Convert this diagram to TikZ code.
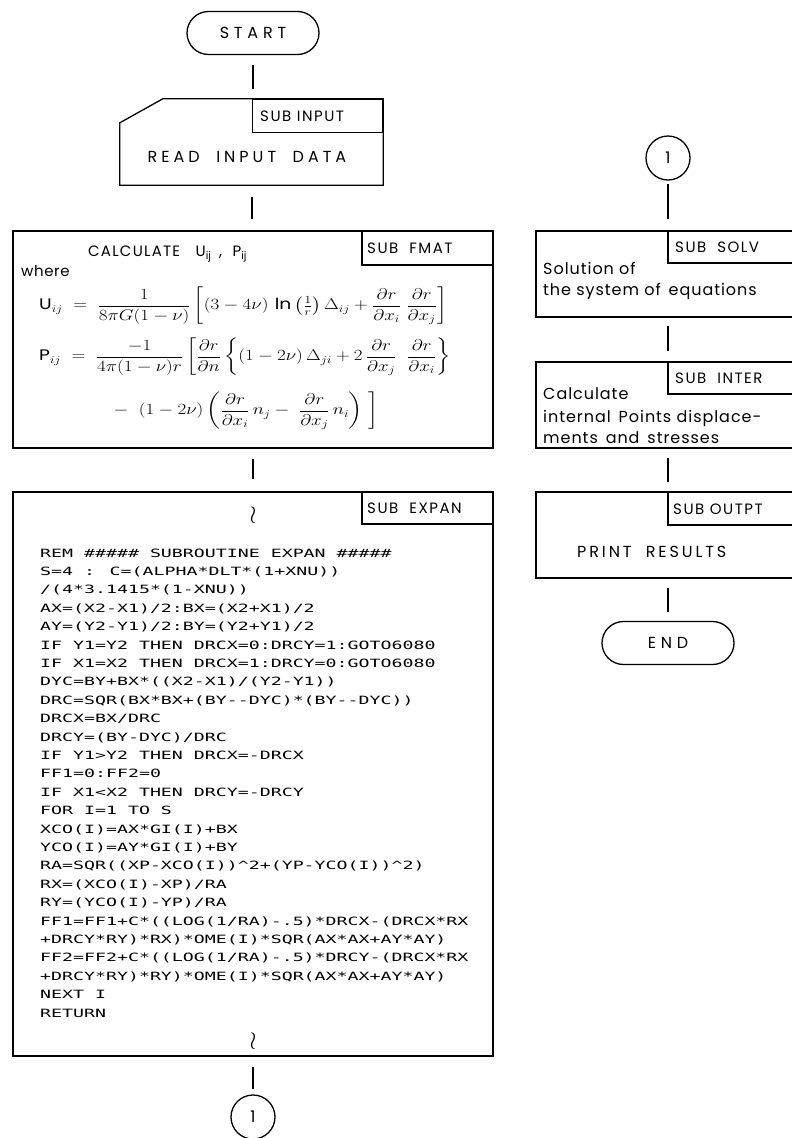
\documentclass[tikz,border=0pt]{standalone}
\usepackage{amsmath}
\usepackage{fontspec}
\usetikzlibrary{shapes.misc,calc}
\setmainfont{Poppins}
\newfontfamily\codefont{DejaVu Sans Mono}[FakeStretch=1.6]
\begin{document}
\begin{tikzpicture}[x=1pt,y=-1pt,
  ln/.style={line width=1.3pt},
  term/.style={rounded rectangle, draw, line width=1.3pt, minimum width=132pt, minimum height=43pt, inner sep=0pt,
    font=\fontsize{16}{19}\selectfont\addfontfeatures{LetterSpace=30}},
  conn/.style={circle, draw, line width=1.3pt, minimum size=44pt, inner sep=0pt, font=\fontsize{16}{19}\selectfont},
  box/.style={draw, line width=1.3pt, inner sep=0pt},
  lbl/.style={draw, line width=1.3pt, inner sep=0pt, anchor=north east},
  lt/.style={anchor=west, inner sep=0pt, font=\fontsize{15}{18}\selectfont\addfontfeatures{LetterSpace=10}},
  bt/.style={anchor=west, inner sep=0pt, font=\fontsize{16}{19}\selectfont\addfontfeatures{LetterSpace=6}},
  eq/.style={anchor=west, inner sep=0pt, font=\fontsize{17}{20}\selectfont},
  code/.style={anchor=base west, inner sep=0pt, font=\fontsize{11.4}{14}\codefont},
  sq/.style={inner sep=0pt, font=\fontsize{24}{28}\selectfont}
]
\fill[white] (0,0) rectangle (792,1138);
\useasboundingbox (0,0) rectangle (792,1138);
\clip (0,0) rectangle (792,1138);

% ---------- left column ----------
\node[term] (start) at (253,33) {START};

\node[inner sep=0pt, minimum width=263pt, minimum height=86pt] (input) at (251.5,142) {};
\draw[ln] (input.south west) -- ($(input.north west)+(0,24)$) -- ($(input.north west)+(43,0)$)
  -- (input.north east) -- (input.south east) -- cycle;
\node[lbl, minimum width=130pt, minimum height=33pt] (inputl) at (input.north east) {};
\node[lt] (inputt) at (260,116) {SUB INPUT};
\node[inner sep=0pt, font=\fontsize{16}{19}\selectfont\addfontfeatures{LetterSpace=25}] (readt) at (247,157) {READ\ \ INPUT\ \ DATA};

\node[box, minimum width=480pt, minimum height=217pt] (fmat) at (253,339.5) {};
\node[lbl, minimum width=131pt, minimum height=34pt] (fmatl) at (fmat.north east) {};
\node[lt] (fmatt) at (367,248) {SUB\ \ FMAT};
\node[anchor=base west, inner sep=0pt, font=\fontsize{15}{18}\selectfont\addfontfeatures{LetterSpace=8}] (calc) at (88,256)
  {CALCULATE\ \ \ U\textsubscript{\addfontfeatures{LetterSpace=0}ij}\,\ ,\ \ P\textsubscript{\addfontfeatures{LetterSpace=0}ij}};
\node[anchor=base west, inner sep=0pt, font=\fontsize{15}{18}\selectfont\addfontfeatures{LetterSpace=4}] (where) at (21,276) {where};
\node[eq] (equ) at (39,306)
  {\scalebox{1.1}[0.9]{$\text{U}_{ij}\;=\;\dfrac{1}{8\pi G(1-\nu)}\left[(3-4\nu)\,\ln\left(\tfrac{1}{r}\right)\Delta_{ij}+\dfrac{\partial r}{\partial x_i}\;\dfrac{\partial r}{\partial x_j}\right]$}};
\node[eq] (eqp) at (39,357)
  {\scalebox{1.1}[0.9]{$\text{P}_{ij}\;=\;\dfrac{-1}{4\pi(1-\nu)r}\left[\dfrac{\partial r}{\partial n}\left\{(1-2\nu)\,\Delta_{ji}+2\,\dfrac{\partial r}{\partial x_j}\;\;\dfrac{\partial r}{\partial x_i}\right\}\right.$}};
\node[eq] (eqr) at (112,411)
  {\scalebox{1.1}[0.9]{$\left.-\;\;(1-2\nu)\left(\dfrac{\partial r}{\partial x_i}\,n_j-\;\dfrac{\partial r}{\partial x_j}\,n_i\right)\;\right]$}};

\node[box, minimum width=480pt, minimum height=564pt] (expan) at (253,774) {};
\node[lbl, minimum width=131pt, minimum height=32pt] (expanl) at (expan.north east) {};
\node[lt] (expant) at (367,508) {SUB\ \ EXPAN};
\node[sq] (sqa) at (253,515) {$\wr$};
\node[sq] (sqb) at (253,1041) {$\wr$};

\foreach \t [count=\i] in {
  {REM \#\#\#\#\# SUBROUTINE EXPAN \#\#\#\#\#},
  {S=4 : C=(ALPHA*DLT*(1+XNU))},
  {/(4*3.1415*(1-XNU))},
  {AX=(X2-X1)/2:BX=(X2+X1)/2},
  {AY=(Y2-Y1)/2:BY=(Y2+Y1)/2},
  {IF Y1=Y2 THEN DRCX=0:DRCY=1:GOTO6080},
  {IF X1=X2 THEN DRCX=1:DRCY=0:GOTO6080},
  {DYC=BY+BX*((X2-X1)/(Y2-Y1))},
  {DRC=SQR(BX*BX+(BY-\kern0pt-DYC)*(BY-\kern0pt-DYC))},
  {DRCX=BX/DRC},
  {DRCY=(BY-DYC)/DRC},
  {IF Y1>Y2 THEN DRCX=-DRCX},
  {FF1=0:FF2=0},
  {IF X1<X2 THEN DRCY=-DRCY},
  {FOR I=1 TO S},
  {XCO(I)=AX*GI(I)+BX},
  {YCO(I)=AY*GI(I)+BY},
  {RA=SQR((XP-XCO(I))\textasciicircum2+(YP-YCO(I))\textasciicircum2)},
  {RX=(XCO(I)-XP)/RA},
  {RY=(YCO(I)-YP)/RA},
  {FF1=FF1+C*((LOG(1/RA)-.5)*DRCX-(DRCX*RX},
  {+DRCY*RY)*RX)*OME(I)*SQR(AX*AX+AY*AY)},
  {FF2=FF2+C*((LOG(1/RA)-.5)*DRCY-(DRCX*RX},
  {+DRCY*RY)*RY)*OME(I)*SQR(AX*AX+AY*AY)},
  {NEXT I},
  {RETURN}}
  \node[code] (c\i) at (40,{557+18.4*(\i-1)}) {\t};

\node[conn] (cona) at (253,1117) {1};

% ---------- right column ----------
\node[conn] (conb) at (668,158) {1};

\node[box, minimum width=264pt, minimum height=86pt] (solv) at (668,274) {};
\node[lbl, minimum width=132pt, minimum height=32pt] (solvl) at (solv.north east) {};
\node[lt] (solvt) at (675,247) {SUB\ \ SOLV};
\node[bt] (solv1) at (543,268) {Solution of};
\node[bt] (solv2) at (543,291) {the system of\, equations};

\node[box, minimum width=264pt, minimum height=86pt] (inter) at (668,405) {};
\node[lbl, minimum width=132pt, minimum height=32pt] (interl) at (inter.north east) {};
\node[lt] (intert) at (675,378) {SUB\ \ INTER};
\node[bt] (inter1) at (543,394) {Calculate};
\node[bt] (inter2) at (543,418) {internal\, Points displace-};
\node[bt] (inter3) at (543,438) {ments\, and\, stresses};

\node[box, minimum width=264pt, minimum height=86pt] (outpt) at (668,535) {};
\node[lbl, minimum width=132pt, minimum height=33pt] (outptl) at (outpt.north east) {};
\node[lt] (outptt) at (673,509) {SUB OUTPT};
\node[inner sep=0pt, anchor=west, font=\fontsize{16}{19}\selectfont\addfontfeatures{LetterSpace=18}] (printt) at (577,552) {PRINT\ \ RESULTS};

\node[term] (end) at (668,643) {END};

% ---------- connectors ----------
\draw[ln, shorten <=10pt, shorten >=10pt] (start.south) -- (start.south |- input.north);
\draw[ln, shorten <=12pt, shorten >=11pt] (inputl.west |- input.south) -- (inputl.west |- fmat.north);
\draw[ln, shorten <=10pt, shorten >=12pt] (fmat.south) -- (expan.north);
\draw[ln, shorten <=10pt, shorten >=5pt] (expan.south) -- (cona.north);
\draw[ln, shorten <=3pt, shorten >=11pt] (conb.south) -- (solv.north);
\draw[ln, shorten <=8pt, shorten >=10pt] (solv.south) -- (inter.north);
\draw[ln, shorten <=9pt, shorten >=9pt] (inter.south) -- (outpt.north);
\draw[ln, shorten <=9pt, shorten >=9pt] (outpt.south) -- (end.north);
\end{tikzpicture}
\end{document}
